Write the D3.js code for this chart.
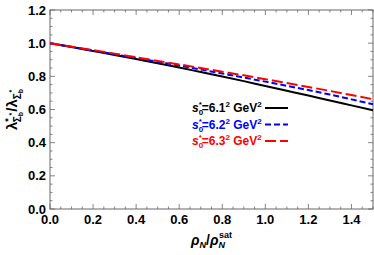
<!DOCTYPE html>
<html>
<head>
<meta charset="utf-8">
<script src="https://cdn.jsdelivr.net/npm/d3@7"></script>
<style>
  body { margin: 0; background: #fff; }
  svg { display: block; font-family: "Liberation Sans", Arial, sans-serif; }
</style>
</head>
<body>
<div class="draw"></div>
<script>
var rho = [0, 0.1, 0.2, 0.3, 0.4, 0.5, 0.6, 0.7, 0.8, 0.9, 1.0, 1.1, 1.2, 1.3, 1.4, 1.5];
var ratio61 = [1, 0.977, 0.953, 0.929, 0.904, 0.879, 0.853, 0.826, 0.799, 0.771, 0.742, 0.713, 0.684, 0.654, 0.625, 0.596];
var ratio62 = [1, 0.978, 0.956, 0.933, 0.911, 0.888, 0.865, 0.841, 0.817, 0.793, 0.768, 0.743, 0.717, 0.690, 0.661, 0.632];
var ratio63 = [1, 0.979, 0.958, 0.937, 0.915, 0.893, 0.872, 0.850, 0.828, 0.806, 0.783, 0.760, 0.736, 0.712, 0.687, 0.662];
var seriesLabels = ['6.1', '6.2', '6.3'];
var xTicks = [0, 0.2, 0.4, 0.6, 0.8, 1.0, 1.2, 1.4];
var yTicks = [0, 0.2, 0.4, 0.6, 0.8, 1.0, 1.2];

var size = { w: 374, h: 255 };
var m = { l: 50, r: 1, t: 10, b: 46 };

var x = d3.scaleLinear().domain([0, 1.5]).range([m.l, size.w - m.r]);
var y = d3.scaleLinear().domain([0, 1.2]).range([size.h - m.b, m.t]);

var svg = d3.select('.draw').append('svg')
  .attr('width', size.w).attr('height', size.h);

var frameColor = '#666';

// minor + major ticks, pointing inward on all four sides
var xMinor = d3.range(0, 1.5001, 0.05);
var yMinor = d3.range(0, 1.2001, 0.05);
var ticks = svg.append('g').attr('stroke', frameColor).attr('stroke-width', 0.8);
function isMajor(v) { return Math.abs(v / 0.2 - Math.round(v / 0.2)) < 1e-6; }
xMinor.forEach(function(v) {
  var len = isMajor(v) ? 5 : 2.5;
  ticks.append('line').attr('x1', x(v)).attr('x2', x(v)).attr('y1', y(0)).attr('y2', y(0) - len);
  ticks.append('line').attr('x1', x(v)).attr('x2', x(v)).attr('y1', y(1.2)).attr('y2', y(1.2) + len);
});
yMinor.forEach(function(v) {
  var len = isMajor(v) ? 5 : 2.5;
  ticks.append('line').attr('y1', y(v)).attr('y2', y(v)).attr('x1', x(0)).attr('x2', x(0) + len);
  ticks.append('line').attr('y1', y(v)).attr('y2', y(v)).attr('x1', x(1.5)).attr('x2', x(1.5) - len);
});

svg.append('rect')
  .attr('x', x(0)).attr('y', y(1.2))
  .attr('width', x(1.5) - x(0)).attr('height', y(0) - y(1.2))
  .attr('fill', 'none').attr('stroke', frameColor).attr('stroke-width', 1);

// tick labels
svg.append('g').selectAll('text').data(xTicks).enter().append('text')
  .attr('x', function(d) { return x(d); })
  .attr('y', y(0) + 15)
  .attr('text-anchor', 'middle')
  .attr('font-size', 13).attr('font-weight', 'bold')
  .text(function(d) { return d.toFixed(1); });

svg.append('g').selectAll('text').data(yTicks).enter().append('text')
  .attr('x', x(0) - 4)
  .attr('y', function(d) { return y(d) + 4.5; })
  .attr('text-anchor', 'end')
  .attr('font-size', 13).attr('font-weight', 'bold')
  .text(function(d) { return d.toFixed(1); });

// curves
var styles = [
  { data: ratio61, color: '#000', dash: null },
  { data: ratio62, color: '#0000ff', dash: '6,3' },
  { data: ratio63, color: '#ff0000', dash: '11,4' }
];
var line = d3.line()
  .x(function(d) { return x(d[0]); })
  .y(function(d) { return y(d[1]); })
  .curve(d3.curveMonotoneX);

styles.forEach(function(s) {
  svg.append('path')
    .datum(rho.map(function(r, i) { return [r, s.data[i]]; }))
    .attr('d', line)
    .attr('fill', 'none')
    .attr('stroke', s.color)
    .attr('stroke-width', 2)
    .attr('stroke-dasharray', s.dash);
});

// legend
styles.forEach(function(s, i) {
  var ly = 112 + i * 16.5;
  var t = svg.append('text')
    .attr('x', 192).attr('y', ly)
    .attr('font-size', 12).attr('font-weight', 'bold')
    .attr('fill', s.color);
  t.append('tspan').attr('font-style', 'italic').text('s');
  t.append('tspan').attr('font-size', 8).attr('dy', 3).text('0');
  t.append('tspan').attr('font-size', 8).attr('dx', -4.5).attr('dy', -8).text('*');
  t.append('tspan').attr('dy', 5).text('=' + seriesLabels[i]);
  t.append('tspan').attr('font-size', 8).attr('dy', -5).text('2');
  t.append('tspan').attr('dy', 5).text(' GeV');
  t.append('tspan').attr('font-size', 8).attr('dy', -5).text('2');

  svg.append('line')
    .attr('x1', 265).attr('x2', 288)
    .attr('y1', ly - 4).attr('y2', ly - 4)
    .attr('stroke', s.color).attr('stroke-width', 2)
    .attr('stroke-dasharray', s.dash);
});

// x axis title
var xt = svg.append('text')
  .attr('x', (x(0) + x(1.5)) / 2).attr('y', 245)
  .attr('text-anchor', 'middle')
  .attr('font-size', 14).attr('font-weight', 'bold');
xt.append('tspan').attr('font-style', 'italic').text('ρ');
xt.append('tspan').attr('font-style', 'italic').attr('font-size', 9).attr('dy', 3).text('N');
xt.append('tspan').attr('dy', -3).text('/');
xt.append('tspan').attr('font-style', 'italic').text('ρ');
xt.append('tspan').attr('font-style', 'italic').attr('font-size', 9).attr('dy', 3).text('N');
xt.append('tspan').attr('font-size', 9).attr('dx', -6).attr('dy', -10).text('sat');

// y axis title
var yt = svg.append('text')
  .attr('transform', 'translate(17,' + ((y(0) + y(1.2)) / 2) + ') rotate(-90)')
  .attr('text-anchor', 'middle')
  .attr('font-size', 15).attr('font-weight', 'bold');
yt.append('tspan').text('λ');
yt.append('tspan').attr('font-size', 9).attr('dy', -6).text('*');
yt.append('tspan').attr('font-size', 10).attr('dx', -4).attr('dy', 10).text('Σ');
yt.append('tspan').attr('font-size', 7).attr('dy', 2).text('b');
yt.append('tspan').attr('font-size', 7).attr('dx', -3.5).attr('dy', -9).text('*');
yt.append('tspan').attr('dx', 1).attr('dy', 3).text('/');
yt.append('tspan').text('λ');
yt.append('tspan').attr('font-size', 10).attr('dy', 4).text('Σ');
yt.append('tspan').attr('font-size', 7).attr('dy', 2).text('b');
yt.append('tspan').attr('font-size', 7).attr('dx', -3.5).attr('dy', -9).text('*');
</script>
</body>
</html>
